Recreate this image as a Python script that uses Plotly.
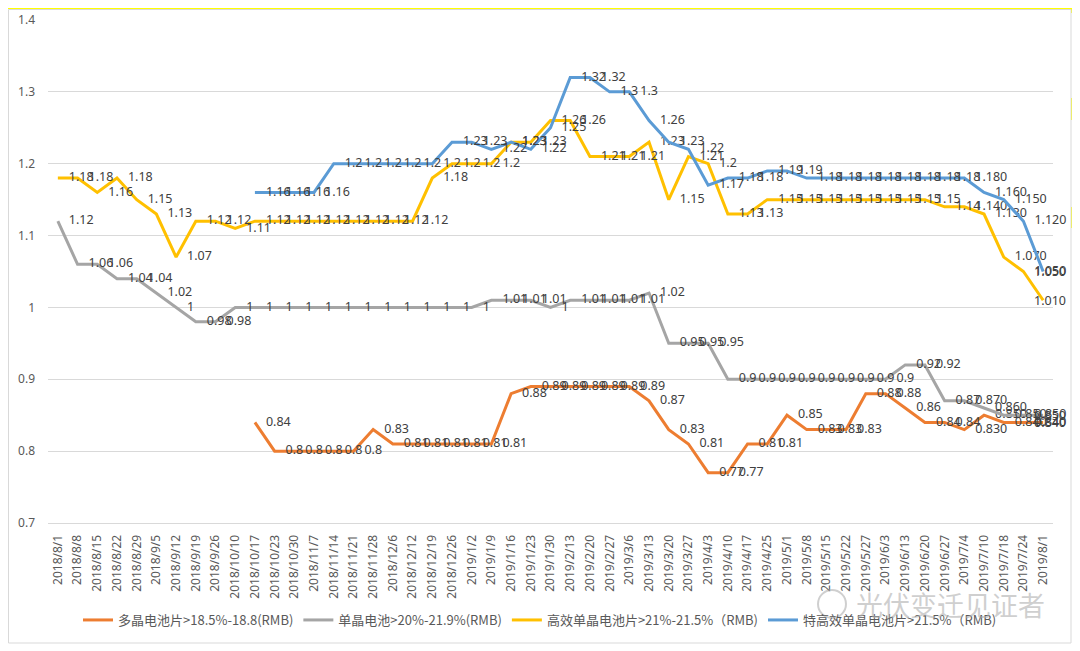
import plotly.graph_objects as go

# ---------------- data ----------------
dates = [
    "2018/8/1", "2018/8/8", "2018/8/15", "2018/8/22", "2018/8/29",
    "2018/9/5", "2018/9/12", "2018/9/19", "2018/9/26",
    "2018/10/10", "2018/10/17", "2018/10/23", "2018/10/30",
    "2018/11/7", "2018/11/14", "2018/11/21", "2018/11/28",
    "2018/12/6", "2018/12/12", "2018/12/19", "2018/12/26",
    "2019/1/2", "2019/1/9", "2019/1/16", "2019/1/23", "2019/1/30",
    "2019/2/13", "2019/2/20", "2019/2/27",
    "2019/3/6", "2019/3/13", "2019/3/20", "2019/3/27",
    "2019/4/3", "2019/4/10", "2019/4/17", "2019/4/25",
    "2019/5/1", "2019/5/8", "2019/5/15", "2019/5/22", "2019/5/27",
    "2019/6/3", "2019/6/13", "2019/6/20", "2019/6/27",
    "2019/7/4", "2019/7/10", "2019/7/18", "2019/7/24", "2019/8/1",
]

poly_cell = [
    None, None, None, None, None, None, None, None, None, None,
    0.84, 0.80, 0.80, 0.80, 0.80, 0.80, 0.83, 0.81, 0.81, 0.81,
    0.81, 0.81, 0.81, 0.88, 0.89, 0.89, 0.89, 0.89, 0.89, 0.89,
    0.87, 0.83, 0.81, 0.77, 0.77, 0.81, 0.81, 0.85, 0.83, 0.83,
    0.83, 0.88, 0.88, 0.86, 0.84, 0.84, 0.83, 0.85, 0.84, 0.84,
    0.84,
]

mono_cell = [
    1.12, 1.06, 1.06, 1.04, 1.04, 1.02, 1.00, 0.98, 0.98, 1.00,
    1.00, 1.00, 1.00, 1.00, 1.00, 1.00, 1.00, 1.00, 1.00, 1.00,
    1.00, 1.00, 1.01, 1.01, 1.01, 1.00, 1.01, 1.01, 1.01, 1.01,
    1.02, 0.95, 0.95, 0.95, 0.90, 0.90, 0.90, 0.90, 0.90, 0.90,
    0.90, 0.90, 0.90, 0.92, 0.92, 0.87, 0.87, 0.86, 0.85, 0.85,
    0.85,
]

high_eff_mono = [
    1.18, 1.18, 1.16, 1.18, 1.15, 1.13, 1.07, 1.12, 1.12, 1.11,
    1.12, 1.12, 1.12, 1.12, 1.12, 1.12, 1.12, 1.12, 1.12, 1.18,
    1.20, 1.20, 1.20, 1.23, 1.23, 1.26, 1.26, 1.21, 1.21, 1.21,
    1.23, 1.15, 1.21, 1.20, 1.13, 1.13, 1.15, 1.15, 1.15, 1.15,
    1.15, 1.15, 1.15, 1.15, 1.15, 1.14, 1.14, 1.13, 1.07, 1.05,
    1.01,
]

super_eff_mono = [
    None, None, None, None, None, None, None, None, None, None,
    1.16, 1.16, 1.16, 1.16, 1.20, 1.20, 1.20, 1.20, 1.20, 1.20,
    1.23, 1.23, 1.22, 1.23, 1.22, 1.25, 1.32, 1.32, 1.30, 1.30,
    1.26, 1.23, 1.22, 1.17, 1.18, 1.18, 1.19, 1.19, 1.18, 1.18,
    1.18, 1.18, 1.18, 1.18, 1.18, 1.18, 1.18, 1.16, 1.15, 1.12,
    1.05,
]

series_names = [
    "多晶电池片>18.5%-18.8(RMB)",
    "单晶电池>20%-21.9%(RMB)",
    "高效单晶电池片>21%-21.5%（RMB)",
    "特高效单晶电池片>21.5%（RMB)",
]
y_ticks = [0.7, 0.8, 0.9, 1.0, 1.1, 1.2, 1.3, 1.4]
y_tick_text = ["0.7", "0.8", "0.9", "1", "1.1", "1.2", "1.3", "1.4"]
three_decimal_from = "2019/7/4"   # labels from this date on show 3 decimals
watermark = "光伏变迁见证者"

# ---------------- styling ----------------
colors = ["#ED7D31", "#A5A5A5", "#FFC000", "#5B9BD5"]
LATIN = "Noto Sans, Noto Sans CJK SC, sans-serif"
CJK = "Noto Sans CJK SC, Noto Sans, sans-serif"
LABEL_FONT = dict(family=LATIN, size=12.5, color="#404040")

OFF = 8                      # page body margin of the browser
FW, FH = 1072, 643           # figure size (fits the 1080x651 window)
PLOT_L, PLOT_R = 48, 1053    # plot area in page pixels
PLOT_T, PLOT_B = 20, 523
L = PLOT_L - OFF
T = PLOT_T - OFF
R = FW - (PLOT_R - OFF)
B = FH - (PLOT_B - OFF)
PW, PH = PLOT_R - PLOT_L, PLOT_B - PLOT_T


def px_x(p):
    """page pixel x -> paper coordinate"""
    return (p - PLOT_L) / PW


def px_y(p):
    """page pixel y -> paper coordinate"""
    return (PLOT_B - p) / PH


def fmt(i, v):
    if v is None:
        return ""
    if i >= dates.index(three_decimal_from):
        return f"{v:.3f}"
    return f"{v:g}"


fig = go.Figure()
annotations = []
for vals, name, col in zip(
    [poly_cell, mono_cell, high_eff_mono, super_eff_mono], series_names, colors
):
    texts = [fmt(i, v) for i, v in enumerate(vals)]
    last = texts[-1]
    texts[-1] = ""  # last label is pulled inside the chart box (as in Excel)
    fig.add_trace(
        go.Scatter(
            x=dates,
            y=vals,
            name=name,
            mode="lines+markers+text",
            line=dict(color=col, width=3),
            marker=dict(size=16, color="rgba(0,0,0,0)", line=dict(width=0)),
            text=texts,
            textposition="middle right",
            textfont=LABEL_FONT,
            cliponaxis=False,
            connectgaps=False,
            hoverinfo="x+y+name",
        )
    )
    annotations.append(dict(
        x=dates[-1], y=vals[-1], xref="x", yref="y", text=last,
        showarrow=False, xanchor="right", yanchor="middle", xshift=25,
        font=LABEL_FONT,
    ))

annotations.append(dict(
    text=watermark, xref="paper", yref="paper",
    x=px_x(950), y=px_y(604), xanchor="center", yanchor="middle",
    showarrow=False,
    font=dict(family=CJK, size=27, color="rgba(175,175,175,0.6)"),
))

shapes = []
# spreadsheet background pieces outside the chart box (right edge)
yellow_boxes = [
    (1071, 8, 1080, 13), (1071, 98, 1080, 120), (1071, 207, 1080, 228),
    (8, 8, 1080, 9),
]
for x0, y0, x1, y1 in yellow_boxes:
    shapes.append(dict(type="rect", xref="paper", yref="paper",
                       x0=px_x(x0), x1=px_x(x1), y0=px_y(y1), y1=px_y(y0),
                       fillcolor="#FFFF00", line=dict(width=0), layer="below"))
# chart frame
shapes.append(dict(type="rect", xref="paper", yref="paper",
                   x0=px_x(8.5), x1=px_x(1071), y0=px_y(643), y1=px_y(9.5),
                   fillcolor="rgba(0,0,0,0)", line=dict(color="#D9D9D9", width=1),
                   layer="below"))
# watermark icon (small face bubble)
shapes.append(dict(type="circle", xref="paper", yref="paper",
                   x0=px_x(818), x1=px_x(846), y0=px_y(618), y1=px_y(590),
                   fillcolor="rgba(0,0,0,0)",
                   line=dict(color="rgba(175,175,175,0.6)", width=2)))

fig.update_layout(
    width=FW, height=FH, autosize=False,
    margin=dict(l=L, r=R, t=T, b=B, pad=0, autoexpand=False),
    paper_bgcolor="white", plot_bgcolor="white",
    font=dict(family=LATIN, size=12, color="#595959"),
    showlegend=True,
    legend=dict(
        orientation="h", x=px_x(540), xanchor="center",
        y=px_y(620), yanchor="middle",
        font=dict(family=CJK, size=13, color="#595959"),
        bgcolor="rgba(0,0,0,0)", itemwidth=30, tracegroupgap=0,
    ),
    shapes=shapes,
    annotations=annotations,
    xaxis=dict(
        type="category", categoryorder="array", categoryarray=dates,
        range=[-0.5, len(dates) - 0.5], automargin=False,
        tickangle=-90, showgrid=False, zeroline=False,
        showline=True, linecolor="#D9D9D9", linewidth=1,
        ticks="", ticklabelstandoff=6,
        tickfont=dict(family=LATIN, size=12, color="#595959"),
    ),
    yaxis=dict(
        range=[0.7, 1.4], tickmode="array", tickvals=y_ticks, ticktext=y_tick_text,
        automargin=False,
        showgrid=True, gridcolor="#D9D9D9", gridwidth=1,
        zeroline=False, showline=False, ticks="", ticklabelstandoff=12,
        tickfont=dict(family=LATIN, size=12, color="#595959"),
    ),
)

fig.write_html("out.html")
